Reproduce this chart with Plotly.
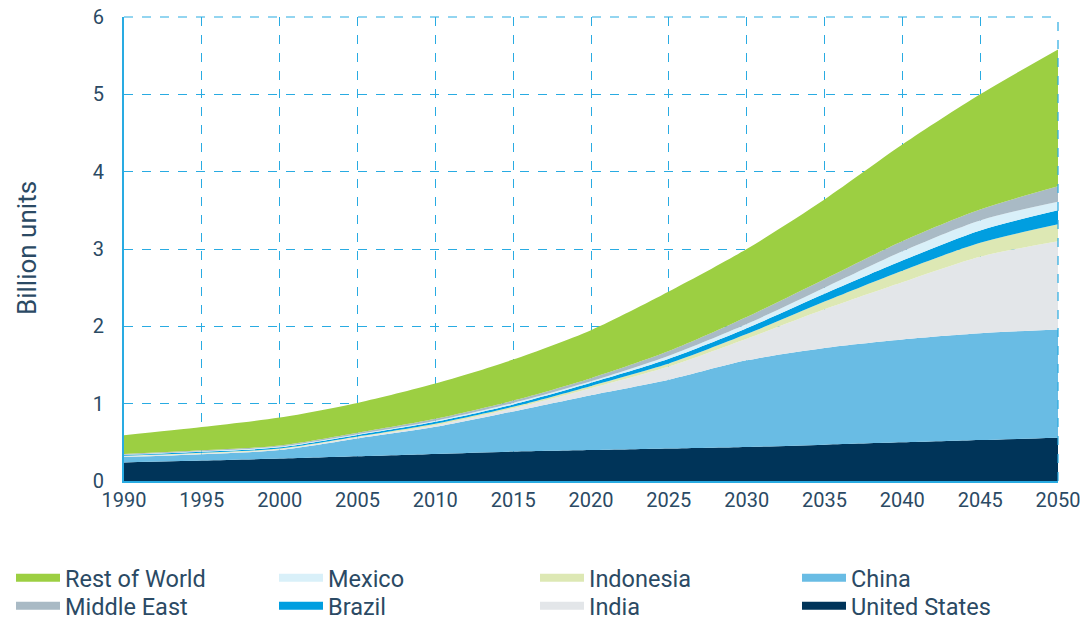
import plotly.graph_objects as go

years = [1990, 1995, 2000, 2005, 2010, 2015, 2020, 2025, 2030, 2035, 2040, 2045, 2050]

united_states = [0.24, 0.265, 0.29, 0.32, 0.35, 0.38, 0.40, 0.42, 0.44, 0.47, 0.50, 0.53, 0.56]
china         = [0.07, 0.08, 0.11, 0.23, 0.35, 0.52, 0.71, 0.89, 1.12, 1.25, 1.33, 1.38, 1.40]
india         = [0.01, 0.01, 0.01, 0.015, 0.02, 0.04, 0.09, 0.17, 0.28, 0.50, 0.74, 0.99, 1.14]
indonesia     = [0.005, 0.01, 0.01, 0.01, 0.02, 0.02, 0.03, 0.04, 0.06, 0.10, 0.15, 0.18, 0.22]
brazil        = [0.01, 0.012, 0.015, 0.02, 0.025, 0.03, 0.04, 0.06, 0.075, 0.10, 0.13, 0.16, 0.18]
mexico        = [0.005, 0.008, 0.01, 0.01, 0.015, 0.02, 0.02, 0.04, 0.055, 0.08, 0.12, 0.13, 0.11]
middle_east   = [0.01, 0.012, 0.015, 0.02, 0.025, 0.03, 0.04, 0.06, 0.09, 0.11, 0.13, 0.14, 0.20]
rest_of_world = [0.24, 0.30, 0.36, 0.385, 0.455, 0.53, 0.62, 0.77, 0.88, 1.03, 1.25, 1.49, 1.77]

# (name, values, colour, legend column, legend row)
series = [
    ("United States", united_states, "#003459", 3, 1),
    ("China", china, "#69bce4", 3, 0),
    ("India", india, "#e3e6e9", 2, 1),
    ("Indonesia", indonesia, "#dde8b4", 2, 0),
    ("Brazil", brazil, "#009ee0", 1, 1),
    ("Mexico", mexico, "#d9f0f9", 1, 0),
    ("Middle East", middle_east, "#a9bac5", 0, 1),
    ("Rest of World", rest_of_world, "#9ccf42", 0, 0),
]

grid_col = "#29abe2"
text_col = "#2b4a64"
W, H = 1084, 612
L, R, T, B = 116, 34, 9, 139
col_x = [3, 266, 527, 789]
row_y = [570, 598]

fig = go.Figure()
for name, vals, color, c, r in series:
    fig.add_trace(go.Scatter(
        x=years, y=vals, name=name, stackgroup="one", mode="lines",
        line=dict(width=0, color=color, shape="spline", smoothing=0.8),
        fillcolor=color, showlegend=False, hoverinfo="x+y+name",
    ))

legends = {}
for i, (name, vals, color, c, r) in enumerate(series):
    key = "legend" if i == 0 else f"legend{i + 1}"
    fig.add_trace(go.Scatter(
        x=[None], y=[None], name=name, mode="lines",
        line=dict(width=8, color=color), legend=key, showlegend=True,
    ))
    legends[key] = dict(
        orientation="v", xref="container", yref="container",
        x=col_x[c] / W, y=1 - row_y[r] / H, xanchor="left", yanchor="middle",
        font=dict(size=23.5, color=text_col, family="Roboto"),
        itemwidth=44, bgcolor="rgba(0,0,0,0)",
    )

plot_w = W - L - R
plot_h = H - T - B

fig.update_layout(
    width=W, height=H,
    margin=dict(l=L, r=R, t=T, b=B, autoexpand=False),
    paper_bgcolor="white", plot_bgcolor="white",
    font=dict(family="Roboto", color=text_col),
    showlegend=True,
    xaxis=dict(
        range=[1990, 2050], dtick=5, tick0=1990, automargin=False,
        showgrid=True, gridcolor=grid_col, griddash="dash", gridwidth=1.2,
        showline=True, linecolor=grid_col, linewidth=2,
        zeroline=False, ticks="", ticklabelstandoff=0,
        ticklabeloverflow="allow",
        tickfont=dict(size=20, color=text_col),
    ),
    yaxis=dict(
        range=[0, 6], dtick=1, automargin=False,
        showgrid=True, gridcolor=grid_col, griddash="dash", gridwidth=1.2,
        showline=True, linecolor=grid_col, linewidth=2,
        zeroline=False, ticks="", ticklabelstandoff=14,
        ticklabeloverflow="allow",
        tickfont=dict(size=20, color=text_col),
    ),
    annotations=[
        dict(text="Billion units", textangle=-90, showarrow=False,
             xref="paper", yref="paper",
             x=(19 - L) / plot_w, y=(H - B - 240) / plot_h,
             xanchor="center", yanchor="middle",
             font=dict(size=26, color=text_col, family="Roboto")),
    ],
    shapes=[
        dict(type="line", xref="paper", yref="paper", x0=0, x1=1, y0=1, y1=1,
             line=dict(color=grid_col, width=1.2, dash="dash"), layer="below"),
        dict(type="line", xref="paper", yref="paper", x0=1, x1=1, y0=0, y1=1,
             line=dict(color=grid_col, width=1.2, dash="dash"), layer="above"),
    ],
    **legends,
)

fig.write_html("out.html")
